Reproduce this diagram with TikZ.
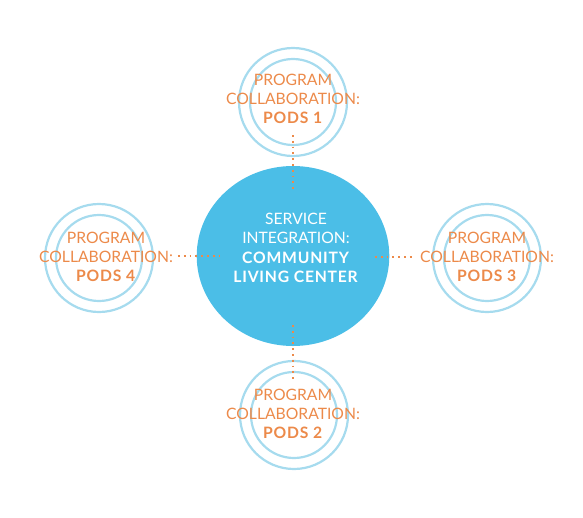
\documentclass[tikz,border=0pt]{standalone}
\usepackage{fontspec}
\setmainfont{Lato}[BoldFeatures={LetterSpace=5}]
\usetikzlibrary{calc}
\definecolor{ringc}{HTML}{A6DBEE}
\definecolor{hubc}{HTML}{4BBEE7}
\definecolor{podc}{HTML}{EC8A4A}
\begin{document}
\begin{tikzpicture}[x=1pt,y=-1pt,
  outerring/.style={circle, draw=ringc, line width=2.2pt, minimum size=108pt, inner sep=0pt},
  innerring/.style={circle, draw=ringc, line width=2.2pt, minimum size=86pt, inner sep=0pt},
  podtext/.style={text=podc, align=center, font=\fontsize{15.7}{19}\selectfont, inner sep=0pt},
  hubtext/.style={text=white, align=center, font=\fontsize{15.7}{19.5}\selectfont, inner sep=0pt},
  dotline/.style={draw=podc, line width=1.8pt, dash pattern=on 1.8pt off 4pt}
]
\useasboundingbox (0,0) rectangle (583,517);
% hub
\node[circle, fill=hubc, minimum size=180pt, inner sep=0pt, xscale=1.07] (hub) at (293,256) {};
% pods rings
\node[outerring] (p1) at (293,102) {};
\node[innerring] (p1i) at (p1) {};
\node[outerring] (p2) at (294,415) {};
\node[innerring] (p2i) at (p2) {};
\node[outerring] (p3) at (487,258) {};
\node[innerring] (p3i) at (p3) {};
\node[outerring] (p4) at (99,258) {};
\node[innerring] (p4i) at (p4) {};
% connector ends
\coordinate (c1a) at (293,135);
\coordinate (c1b) at (293,189);
\coordinate (c2a) at (293,325);
\coordinate (c2b) at (293,381);
\coordinate (c3a) at (375,257);
\coordinate (c3b) at (413,257);
\coordinate (c4a) at (178,256);
\coordinate (c4b) at (224,256);
\draw[dotline] (c1a) -- (c1b);
\draw[dotline] (c2a) -- (c2b);
\draw[dotline] (c3a) -- (c3b);
\draw[dotline] (c4a) -- (c4b);
% texts
\node[podtext] (t1) at (293,99) {PROGRAM\\COLLABORATION:\\\textbf{PODS 1}};
\node[podtext] (t2) at (293,414) {PROGRAM\\COLLABORATION:\\\textbf{PODS 2}};
\node[podtext] (t3) at (487,257) {PROGRAM\\COLLABORATION:\\\textbf{PODS 3}};
\node[podtext] (t4) at (106,257) {PROGRAM\\COLLABORATION:\\\textbf{PODS 4}};
\node[hubtext] (th) at (296,248) {SERVICE\\INTEGRATION:\\\textbf{COMMUNITY}\\\textbf{LIVING CENTER}};
\end{tikzpicture}
\end{document}
